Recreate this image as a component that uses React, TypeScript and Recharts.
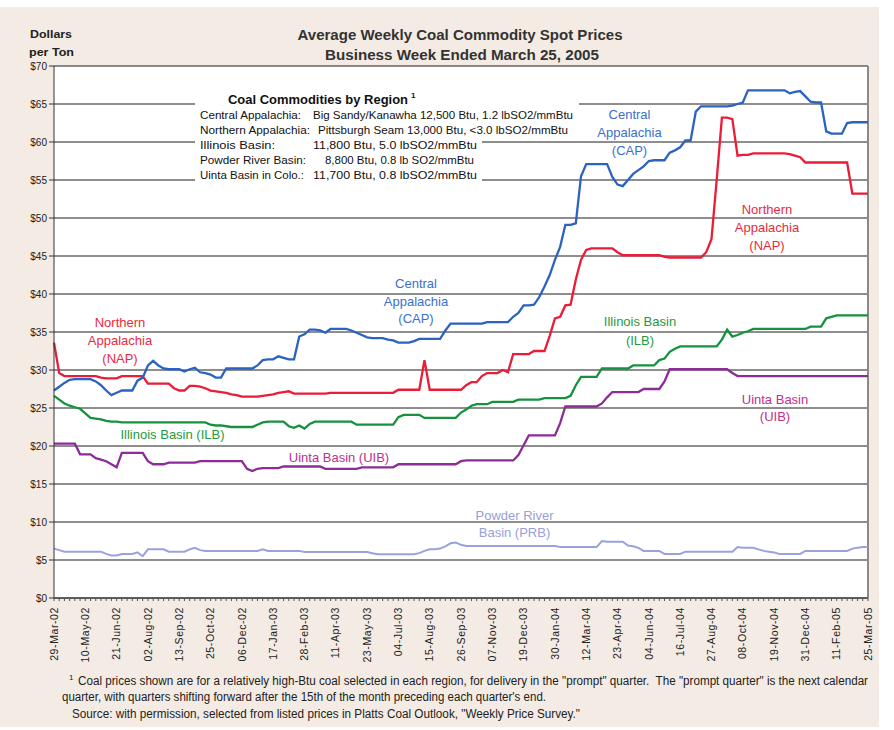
import React from 'react';
import { LineChart, Line, XAxis, YAxis, CartesianGrid, ReferenceLine } from 'recharts';

// Tick labels (every 6th week)
const weekLabels = [
  '29-Mar-02', '10-May-02', '21-Jun-02', '02-Aug-02', '13-Sep-02', '25-Oct-02', '06-Dec-02',
  '17-Jan-03', '28-Feb-03', '11-Apr-03', '23-May-03', '04-Jul-03', '15-Aug-03', '26-Sep-03',
  '07-Nov-03', '19-Dec-03', '30-Jan-04', '12-Mar-04', '23-Apr-04', '04-Jun-04', '16-Jul-04',
  '27-Aug-04', '08-Oct-04', '19-Nov-04', '31-Dec-04', '11-Feb-05', '25-Mar-05',
];

const yTicks = [0, 5, 10, 15, 20, 25, 30, 35, 40, 45, 50, 55, 60, 65, 70];

// Weekly prices, $/ton, 29-Mar-02 .. 25-Mar-05 (157 weeks)
const cap = [
  27.3, 27.8, 28.3, 28.7, 28.8, 28.8, 28.8, 28.8, 28.5, 28.0,
  27.3, 26.7, 27.0, 27.3, 27.3, 27.3, 28.6, 29.0, 30.6, 31.2,
  30.6, 30.2, 30.1, 30.1, 30.1, 29.8, 30.1, 30.3, 29.7, 29.6,
  29.4, 29.0, 29.0, 30.2, 30.2, 30.2, 30.2, 30.2, 30.2, 30.6,
  31.3, 31.4, 31.4, 31.8, 31.6, 31.4, 31.4, 34.4, 34.7, 35.3,
  35.3, 35.2, 34.9, 35.4, 35.4, 35.4, 35.4, 35.2, 34.9, 34.6,
  34.3, 34.2, 34.2, 34.2, 34.0, 33.9, 33.6, 33.6, 33.6, 33.8,
  34.1, 34.1, 34.1, 34.1, 34.1, 35.2, 36.1, 36.1, 36.1, 36.1,
  36.1, 36.1, 36.1, 36.3, 36.3, 36.3, 36.3, 36.3, 37.0, 37.5,
  38.5, 38.5, 38.6, 39.6, 41.0, 42.5, 44.5, 46.2, 49.1, 49.1,
  49.3, 55.5, 57.1, 57.1, 57.1, 57.1, 57.1, 55.4, 54.4, 54.2,
  55.0, 55.8, 56.3, 56.8, 57.5, 57.6, 57.6, 57.6, 58.6, 58.9,
  59.3, 60.2, 60.2, 64.0, 64.7, 64.7, 64.7, 64.7, 64.7, 64.7,
  64.8, 65.0, 65.2, 66.8, 66.8, 66.8, 66.8, 66.8, 66.8, 66.8,
  66.8, 66.4, 66.6, 66.7, 66.0, 65.3, 65.2, 65.2, 61.4, 61.1,
  61.1, 61.1, 62.5, 62.6, 62.6, 62.6, 62.6,
];

const nap = [
  33.6, 29.6, 29.2, 29.2, 29.2, 29.2, 29.2, 29.2, 29.2, 29.0,
  28.9, 28.9, 28.9, 29.2, 29.2, 29.2, 29.2, 29.2, 28.2, 28.2,
  28.2, 28.2, 28.2, 27.6, 27.3, 27.3, 27.9, 27.9, 27.8, 27.6,
  27.3, 27.2, 27.1, 27.0, 26.8, 26.7, 26.5, 26.5, 26.5, 26.5,
  26.6, 26.7, 26.8, 27.0, 27.1, 27.2, 26.9, 26.9, 26.9, 26.9,
  26.9, 26.9, 26.9, 27.0, 27.0, 27.0, 27.0, 27.0, 27.0, 27.0,
  27.0, 27.0, 27.0, 27.0, 27.0, 27.0, 27.4, 27.4, 27.4, 27.4,
  27.4, 31.3, 27.4, 27.4, 27.4, 27.4, 27.4, 27.4, 27.4, 28.0,
  28.4, 28.4, 29.2, 29.6, 29.6, 29.6, 30.0, 29.7, 32.1, 32.1,
  32.1, 32.1, 32.5, 32.5, 32.5, 34.5, 36.8, 37.0, 38.5, 38.6,
  41.9, 44.5, 45.8, 46.0, 46.0, 46.0, 46.0, 46.0, 45.5, 45.1,
  45.1, 45.1, 45.1, 45.1, 45.1, 45.1, 45.1, 44.9, 44.8, 44.8,
  44.8, 44.8, 44.8, 44.8, 44.8, 45.5, 47.2, 55.0, 63.2, 63.2,
  63.0, 58.2, 58.3, 58.3, 58.5, 58.5, 58.5, 58.5, 58.5, 58.5,
  58.5, 58.4, 58.2, 58.0, 57.3, 57.3, 57.3, 57.3, 57.3, 57.3,
  57.3, 57.3, 57.3, 53.2, 53.2, 53.2, 53.2,
];

const ilb = [
  26.6, 26.1, 25.6, 25.3, 25.1, 24.9, 24.3, 23.7, 23.6, 23.5,
  23.3, 23.2, 23.2, 23.1, 23.1, 23.1, 23.1, 23.1, 23.1, 23.1,
  23.1, 23.1, 23.1, 23.1, 23.1, 23.1, 23.1, 23.1, 23.1, 23.1,
  22.8, 22.7, 22.7, 22.6, 22.5, 22.5, 22.5, 22.5, 22.5, 22.8,
  23.1, 23.2, 23.2, 23.2, 23.2, 22.6, 22.4, 22.7, 22.3, 22.9,
  23.2, 23.2, 23.2, 23.2, 23.2, 23.2, 23.2, 23.2, 22.8, 22.8,
  22.8, 22.8, 22.8, 22.8, 22.8, 22.8, 23.8, 24.1, 24.1, 24.1,
  24.1, 23.7, 23.7, 23.7, 23.7, 23.7, 23.7, 23.7, 24.4, 24.8,
  25.3, 25.5, 25.5, 25.5, 25.8, 25.8, 25.8, 25.8, 25.8, 26.1,
  26.1, 26.1, 26.1, 26.1, 26.3, 26.3, 26.3, 26.3, 26.3, 26.6,
  28.0, 29.1, 29.1, 29.1, 29.1, 30.2, 30.2, 30.2, 30.2, 30.2,
  30.2, 30.6, 30.6, 30.6, 30.6, 30.6, 31.3, 31.5, 32.4, 32.8,
  33.1, 33.1, 33.1, 33.1, 33.1, 33.1, 33.1, 33.1, 34.0, 35.3,
  34.4, 34.6, 34.9, 35.1, 35.4, 35.4, 35.4, 35.4, 35.4, 35.4,
  35.4, 35.4, 35.4, 35.4, 35.4, 35.7, 35.7, 35.7, 36.8, 37.0,
  37.2, 37.2, 37.2, 37.2, 37.2, 37.2, 37.2,
];

const uib = [
  20.3, 20.3, 20.3, 20.3, 20.3, 18.9, 18.9, 18.9, 18.4, 18.2,
  18.0, 17.6, 17.2, 19.1, 19.1, 19.1, 19.1, 19.1, 18.0, 17.6,
  17.6, 17.6, 17.8, 17.8, 17.8, 17.8, 17.8, 17.8, 18.0, 18.0,
  18.0, 18.0, 18.0, 18.0, 18.0, 18.0, 18.0, 17.0, 16.7, 17.0,
  17.1, 17.1, 17.1, 17.1, 17.3, 17.3, 17.3, 17.3, 17.3, 17.3,
  17.3, 17.3, 17.0, 17.0, 17.0, 17.0, 17.0, 17.0, 17.0, 17.2,
  17.2, 17.2, 17.2, 17.2, 17.2, 17.2, 17.6, 17.6, 17.6, 17.6,
  17.6, 17.6, 17.6, 17.6, 17.6, 17.6, 17.6, 17.6, 18.0, 18.1,
  18.1, 18.1, 18.1, 18.1, 18.1, 18.1, 18.1, 18.1, 18.1, 18.8,
  20.1, 21.4, 21.4, 21.4, 21.4, 21.4, 21.4, 23.0, 25.2, 25.2,
  25.2, 25.2, 25.2, 25.2, 25.2, 25.6, 26.4, 27.1, 27.1, 27.1,
  27.1, 27.1, 27.1, 27.5, 27.5, 27.5, 27.5, 28.5, 30.1, 30.1,
  30.1, 30.1, 30.1, 30.1, 30.1, 30.1, 30.1, 30.1, 30.1, 30.1,
  29.6, 29.2, 29.2, 29.2, 29.2, 29.2, 29.2, 29.2, 29.2, 29.2,
  29.2, 29.2, 29.2, 29.2, 29.2, 29.2, 29.2, 29.2, 29.2, 29.2,
  29.2, 29.2, 29.2, 29.2, 29.2, 29.2, 29.2,
];

const prb = [
  6.5, 6.3, 6.1, 6.1, 6.1, 6.1, 6.1, 6.1, 6.1, 6.1,
  5.8, 5.6, 5.6, 5.8, 5.8, 5.8, 6.0, 5.5, 6.4, 6.4,
  6.4, 6.4, 6.1, 6.1, 6.1, 6.1, 6.4, 6.6, 6.3, 6.2,
  6.2, 6.2, 6.2, 6.2, 6.2, 6.2, 6.2, 6.2, 6.2, 6.2,
  6.4, 6.2, 6.2, 6.2, 6.2, 6.2, 6.2, 6.2, 6.05, 6.05,
  6.05, 6.05, 6.05, 6.05, 6.05, 6.05, 6.05, 6.05, 6.05, 6.05,
  6.05, 5.9, 5.75, 5.75, 5.75, 5.75, 5.75, 5.75, 5.75, 5.75,
  5.9, 6.2, 6.4, 6.4, 6.5, 6.8, 7.2, 7.3, 7.0, 6.85,
  6.85, 6.85, 6.85, 6.85, 6.85, 6.85, 6.85, 6.85, 6.85, 6.85,
  6.85, 6.85, 6.85, 6.85, 6.85, 6.85, 6.85, 6.7, 6.7, 6.7,
  6.7, 6.7, 6.7, 6.7, 6.7, 7.5, 7.4, 7.4, 7.4, 7.4,
  6.9, 6.8, 6.6, 6.2, 6.2, 6.2, 6.2, 5.8, 5.8, 5.8,
  5.8, 6.1, 6.1, 6.1, 6.1, 6.1, 6.1, 6.1, 6.1, 6.1,
  6.1, 6.7, 6.6, 6.6, 6.6, 6.4, 6.2, 6.1, 6.0, 5.8,
  5.8, 5.8, 5.8, 5.8, 6.2, 6.2, 6.2, 6.2, 6.2, 6.2,
  6.2, 6.2, 6.2, 6.5, 6.6, 6.7, 6.7,
];

const rows = cap.map((v, i) => ({
  week: i,
  cap: v,
  nap: nap[i],
  ilb: ilb[i],
  uib: uib[i],
  prb: prb[i],
}));
const weekTicks = rows.map((r) => r.week);

const FONT = '"Liberation Sans", Arial, Helvetica, sans-serif';
const NARROW = '"Liberation Sans Narrow", "Arial Narrow", "Liberation Sans", Arial, sans-serif';

const C = {
  cap: '#2c62c1',
  capText: '#3b6fcb',
  nap: '#ec1b36',
  napText: '#ea2a3d',
  ilb: '#15923d',
  ilbText: '#1f9a40',
  uib: '#8b2c97',
  uibText: '#c0308d',
  prb: '#98a2dc',
  prbText: '#97a0d8',
};

const XTick = (props: any) => {
  const { x, y, payload } = props;
  const v = payload.value;
  if (v % 6 !== 0) return <g />;
  return (
    <text
      transform={`translate(${x + 3.7},${y + 4}) rotate(-90)`}
      textAnchor="end"
      fontSize={10.5}
      letterSpacing={0.6}
      fill="#222"
      fontFamily={FONT}
    >
      {weekLabels[v / 6]}
    </text>
  );
};

const Label = ({ x, ys, lines, color }: { x: number; ys: number[]; lines: string[]; color: string }) => (
  <g>
    {lines.map((t, k) => (
      <text key={k} x={x} y={ys[k] + 4.5} textAnchor="middle" fontSize={13} fill={color} fontFamily={FONT}>
        {t}
      </text>
    ))}
  </g>
);

const legendRows = [
  { label: 'Central Appalachia:', lw: 101, value: 'Big Sandy/Kanawha 12,500 Btu, 1.2 lbSO2/mmBtu', vx: 313, vw: 260, y: 118.5 },
  { label: 'Northern Appalachia:', lw: 110, value: 'Pittsburgh Seam 13,000 Btu, <3.0 lbSO2/mmBtu', vx: 318, vw: 250, y: 133.5 },
  { label: 'Illinois Basin:', lw: 75, value: '11,800 Btu, 5.0 lbSO2/mmBtu', vx: 313, vw: 164, y: 149 },
  { label: 'Powder River Basin:', lw: 106, value: '8,800 Btu, 0.8 lb SO2/mmBtu', vx: 325, vw: 149, y: 164 },
  { label: 'Uinta Basin in Colo.:', lw: 104, value: '11,700 Btu, 0.8 lbSO2/mmBtu', vx: 313, vw: 164, y: 179 },
];

export default function App() {
  return (
    <div style={{ position: 'absolute', left: 0, top: 0, width: 894, height: 730, background: '#ffffff', overflow: 'hidden' }}>
      <div style={{ position: 'absolute', left: 0, top: 7, width: 879, height: 720, background: '#f3ebe4' }} />
      <div style={{ position: 'absolute', left: 0, top: 0 }}>
        <LineChart width={894} height={730} data={rows} margin={{ top: 66, right: 26, bottom: 0, left: 0 }}>
          <CartesianGrid horizontal vertical={false} stroke="#1c1c1c" strokeWidth={1} fill="#ffffff" fillOpacity={1} />
          <XAxis
            dataKey="week"
            type="number"
            domain={[0, 156]}
            ticks={weekTicks}
            interval={0}
            height={132}
            tickSize={3}
            tickMargin={2}
            axisLine={{ stroke: '#333' }}
            tickLine={{ stroke: '#555' }}
            tick={<XTick />}
          />
          <YAxis
            type="number"
            domain={[0, 70]}
            ticks={yTicks}
            interval={0}
            width={54}
            tickSize={5}
            tickMargin={2}
            axisLine={{ stroke: '#333' }}
            tickLine={{ stroke: '#333' }}
            tickFormatter={(v: number) => `$${v}`}
            tick={{ fontSize: 10, fill: '#222', fontFamily: FONT }}
          />
          <ReferenceLine x={156} stroke="#8a8a8a" strokeWidth={2} />
          <Line dataKey="prb" type="linear" stroke={C.prb} strokeWidth={2} dot={false} activeDot={false} isAnimationActive={false} />
          <Line dataKey="uib" type="linear" stroke={C.uib} strokeWidth={2.3} dot={false} activeDot={false} isAnimationActive={false} />
          <Line dataKey="ilb" type="linear" stroke={C.ilb} strokeWidth={2.3} dot={false} activeDot={false} isAnimationActive={false} />
          <Line dataKey="nap" type="linear" stroke={C.nap} strokeWidth={2.3} dot={false} activeDot={false} isAnimationActive={false} />
          <Line dataKey="cap" type="linear" stroke={C.cap} strokeWidth={2.3} dot={false} activeDot={false} isAnimationActive={false} />
        </LineChart>
      </div>
      <svg width={894} height={730} style={{ position: 'absolute', left: 0, top: 0, pointerEvents: 'none' }}>
        {/* titles */}
        <text x={460} y={40} textAnchor="middle" fontSize={14.5} fontWeight="bold" fill="#333" fontFamily={FONT} textLength={325} lengthAdjust="spacingAndGlyphs">
          Average Weekly Coal Commodity Spot Prices
        </text>
        <text x={462} y={59.5} textAnchor="middle" fontSize={14.5} fontWeight="bold" fill="#333" fontFamily={FONT} textLength={274} lengthAdjust="spacingAndGlyphs">
          Business Week Ended March 25, 2005
        </text>
        <text x={30} y={37.5} fontSize={11.5} fontWeight="bold" fill="#222" fontFamily={FONT} textLength={42} lengthAdjust="spacingAndGlyphs">Dollars</text>
        <text x={29} y={56} fontSize={11.5} fontWeight="bold" fill="#222" fontFamily={FONT} textLength={45} lengthAdjust="spacingAndGlyphs">per Ton</text>

        {/* legend box */}
        <rect x={195} y={89} width={384} height={46} fill="#ffffff" />
        <rect x={195} y={134} width={287} height={49} fill="#ffffff" />
        <text x={228} y={103.5} fontSize={13} fontWeight="bold" fill="#111" fontFamily={FONT} textLength={180} lengthAdjust="spacingAndGlyphs">
          Coal Commodities by Region
        </text>
        <text x={411} y={98} fontSize={8} fontWeight="bold" fill="#111" fontFamily={FONT}>1</text>
        {legendRows.map((r, k) => (
          <g key={k}>
            <text x={200} y={r.y} fontSize={11.5} fill="#111" fontFamily={FONT} textLength={r.lw} lengthAdjust="spacingAndGlyphs">{r.label}</text>
            <text x={r.vx} y={r.y} fontSize={11.5} fill="#111" fontFamily={FONT} textLength={r.vw} lengthAdjust="spacingAndGlyphs">{r.value}</text>
          </g>
        ))}

        {/* series annotations */}
        <Label x={629.5} ys={[114, 132, 150]} lines={['Central', 'Appalachia', '(CAP)']} color={C.capText} />
        <Label x={416} ys={[283, 301, 318.5]} lines={['Central', 'Appalachia', '(CAP)']} color={C.capText} />
        <Label x={767} ys={[209, 227, 245]} lines={['Northern', 'Appalachia', '(NAP)']} color={C.napText} />
        <Label x={120} ys={[322.7, 340.7, 358.3]} lines={['Northern', 'Appalachia', '(NAP)']} color={C.napText} />
        <Label x={640} ys={[321.7, 340]} lines={['Illinois Basin', '(ILB)']} color={C.ilbText} />
        <Label x={172.5} ys={[434.7]} lines={['Illinois Basin (ILB)']} color={C.ilbText} />
        <Label x={339} ys={[457.3]} lines={['Uinta Basin (UIB)']} color={C.uibText} />
        <Label x={775} ys={[399, 416.7]} lines={['Uinta Basin', '(UIB)']} color={C.uibText} />
        <Label x={514.5} ys={[515, 532.7]} lines={['Powder River', 'Basin (PRB)']} color={C.prbText} />

        {/* footnote */}
        <text x={69} y={680} fontSize={8} fill="#222" fontFamily={FONT}>1</text>
        <text x={78} y={685} fontSize={12} fill="#222" fontFamily={NARROW} textLength={790} lengthAdjust="spacingAndGlyphs" style={{ whiteSpace: 'pre' }}>
          {'Coal prices shown are for a relatively high-Btu coal selected in each region, for delivery in the "prompt" quarter.  The "prompt quarter" is the next calendar'}
        </text>
        <text x={62} y={701} fontSize={12} fill="#222" fontFamily={NARROW} textLength={484} lengthAdjust="spacingAndGlyphs">
          {"quarter, with quarters shifting forward after the 15th of the month preceding each quarter's end."}
        </text>
        <text x={72} y={718} fontSize={12} fill="#222" fontFamily={NARROW} textLength={508} lengthAdjust="spacingAndGlyphs">
          {'Source: with permission, selected from listed prices in Platts Coal Outlook, "Weekly Price Survey."'}
        </text>
      </svg>
    </div>
  );
}
